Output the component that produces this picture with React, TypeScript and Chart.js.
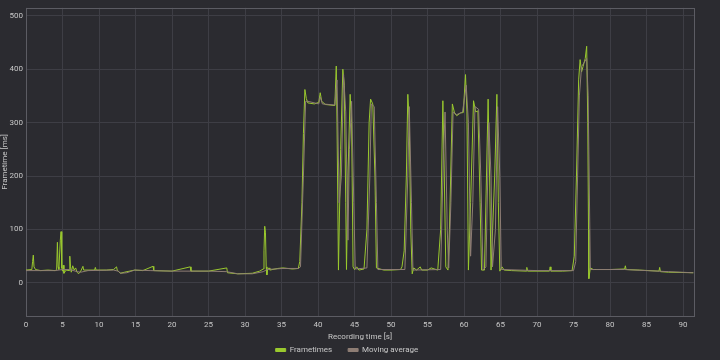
import React, { useEffect, useRef } from "react";
import { Chart, registerables } from "chart.js";
Chart.register(...registerables);

// Frametimes series (recording time in s, frametime in ms)
const ftTime = [
  0, 0.8, 0.9, 1.0, 1.1, 1.3, 2.0, 3.0, 4.0, 4.2, 4.3, 4.4, 4.5, 4.7, 4.8, 4.9, 5.0, 5.1, 5.2, 5.5,
  5.9, 6.0, 6.1, 6.2, 6.4, 6.6, 6.8, 7.0, 7.2, 7.5, 7.8, 7.9, 8.5, 9.4, 9.5, 9.6, 11.0, 12.0, 12.4, 12.5,
  12.9, 13.5, 14.9, 16.0, 17.4, 17.5, 20.0, 22.5, 22.6, 25.0, 27.5, 27.6, 29.0, 31.0, 32.0, 32.5, 32.6, 32.7, 32.8, 32.9,
  33.0, 33.1, 33.3, 33.4, 34.5, 35.2, 36.5, 37.3, 37.5, 37.8, 38.0, 38.2, 38.4, 38.6, 39.5, 40.1, 40.3, 40.5, 41.0, 42.3,
  42.5, 42.6, 42.8, 43.1, 43.4, 43.6, 43.8, 43.9, 44.1, 44.4, 44.6, 44.8, 45.0, 45.3, 45.6, 46.3, 46.7, 47.0, 47.2, 47.5,
  47.8, 48.0, 49.0, 50.0, 51.3, 51.5, 51.8, 52.1, 52.3, 52.5, 52.7, 52.9, 53.1, 53.5, 54.0, 54.2, 55.0, 55.5, 56.4, 56.8,
  57.1, 57.3, 57.5, 57.8, 58.0, 58.4, 58.7, 59.0, 59.5, 59.9, 60.2, 60.4, 60.6, 60.9, 61.3, 61.6, 61.9, 62.2, 62.4, 62.8,
  63.3, 63.5, 63.7, 64.2, 64.5, 64.7, 64.9, 65.2, 65.5, 66.5, 68.5, 68.6, 68.7, 70.0, 71.7, 71.8, 71.9, 73.5, 74.8, 75.1,
  75.4, 75.7, 75.9, 76.1, 76.3, 76.6, 76.8, 76.95, 77.05, 77.1, 77.3, 77.7, 80.0, 82.0, 82.1, 82.2, 84.0, 86.7, 86.8, 86.9,
  88.0, 91.4,
];
const ftMs = [
  24, 25, 40, 52, 30, 25, 23, 24, 23, 25, 76, 30, 25, 80, 96, 28, 22, 33, 18, 24,
  23, 50, 30, 20, 32, 24, 28, 20, 17, 22, 31, 24, 24, 24, 29, 24, 24, 25, 30, 24,
  18, 20, 24, 23, 31, 23, 22, 30, 22, 22, 28, 19, 17, 18, 22, 26, 60, 106, 95, 30,
  15, 26, 28, 24, 27, 28, 26, 27, 40, 150, 280, 362, 345, 337, 335, 338, 356, 340, 334, 332,
  406, 300, 24, 250, 400, 370, 150, 25, 200, 353, 300, 30, 25, 30, 24, 26, 100, 300, 344, 335,
  200, 28, 24, 24, 25, 30, 60, 200, 353, 300, 100, 17, 28, 24, 30, 24, 24, 28, 24, 100,
  341, 200, 30, 24, 100, 335, 318, 313, 318, 319, 390, 320, 24, 150, 341, 320, 322, 150, 24, 24,
  344, 200, 24, 200, 353, 150, 22, 30, 24, 23, 22, 29, 22, 22, 22, 30, 22, 22, 23, 50,
  200, 380, 418, 395, 405, 420, 443, 300, 100, 8, 28, 25, 25, 26, 32, 25, 24, 22, 29, 21,
  20, 19,
];

// Moving average series
const maTime = [
  0, 4, 5, 6, 7, 7.5, 8.5, 12, 12.6, 13.0, 13.8, 14.9, 17, 20, 25, 27.5, 29, 31, 32.5, 33,
  35.2, 37.3, 37.6, 38.0, 38.3, 38.6, 40.1, 40.3, 40.6, 42.3, 42.6, 42.9, 43.2, 43.5, 43.8, 44.1, 44.3, 44.6, 44.9, 45.1,
  46.7, 47.1, 47.3, 47.7, 48.0, 48.2, 51.9, 52.3, 52.5, 52.8, 53.0, 56.8, 57.2, 57.4, 57.7, 57.9, 58.2, 58.5, 59.0, 59.8,
  60.3, 60.6, 60.9, 61.2, 61.5, 62.0, 62.3, 62.6, 63.0, 63.4, 63.7, 63.9, 64.3, 64.6, 64.9, 65.1, 70, 75.0, 75.3, 75.8,
  76.1, 76.8, 77.0, 77.3, 78, 82, 85, 88, 91.4,
];
const maMs = [
  23, 23, 25, 25, 21, 20, 23, 24, 22, 18, 19, 24, 23, 22, 22, 21, 17, 17, 21, 25,
  27, 27, 30, 200, 340, 340, 335, 348, 335, 333, 380, 150, 200, 390, 320, 80, 250, 340, 150, 26,
  28, 200, 335, 330, 150, 25, 25, 200, 330, 150, 24, 25, 250, 320, 100, 28, 150, 320, 315, 320,
  370, 300, 50, 150, 330, 325, 200, 24, 30, 300, 200, 30, 100, 330, 200, 25, 23, 23, 40, 350,
  405, 420, 350, 25, 25, 25, 23, 21, 19,
];

const seriesNames = ["Frametimes", "Moving average"];
const xAxisTitle = "Recording time [s]";
const yAxisTitle = "Frametime [ms]";

const BG = "#2b2b30";
const FONT = "Roboto, 'DejaVu Sans', sans-serif";

const framePlugin = {
  id: "frame",
  beforeDatasetsDraw(chart: any) {
    const { ctx, chartArea } = chart;
    ctx.save();
    ctx.strokeStyle = "#5c5c63";
    ctx.lineWidth = 1;
    ctx.strokeRect(
      Math.round(chartArea.left) + 0.5,
      Math.round(chartArea.top) + 0.5,
      Math.round(chartArea.right - chartArea.left),
      Math.round(chartArea.bottom - chartArea.top)
    );
    ctx.restore();
  },
};

export default function App() {
  const ref = useRef<HTMLCanvasElement>(null);
  useEffect(() => {
    document.body.style.margin = "0";
    document.body.style.background = BG;
    const ft = ftTime.map((t, i) => ({ x: t, y: ftMs[i] }));
    const ma = maTime.map((t, i) => ({ x: t, y: maMs[i] }));
    const chart = new Chart(ref.current!, {
      type: "line",
      data: {
        datasets: [
          {
            label: seriesNames[1],
            data: ma,
            borderColor: "#8e7d74",
            backgroundColor: "#8e7d74",
            borderWidth: 1,
            pointRadius: 0,
            tension: 0,
            order: 0,
          },
          {
            label: seriesNames[0],
            data: ft,
            borderColor: "#9ac92e",
            backgroundColor: "#9ac92e",
            borderWidth: 1,
            pointRadius: 0,
            tension: 0,
            order: 1,
          },
        ],
      },
      options: {
        animation: false,
        responsive: false,
        layout: { padding: { top: 5, right: 26, left: 0, bottom: -4 } },
        plugins: {
          tooltip: { enabled: false },
          legend: {
            position: "bottom",
            reverse: true,
            labels: {
              color: "#c8c8c8",
              font: { family: FONT, size: 8 },
              boxWidth: 10,
              boxHeight: 3,
              padding: 16,
            },
          },
        },
        scales: {
          x: {
            type: "linear",
            min: 0,
            max: 91.5,
            afterFit: (s: any) => {
              s.height = 14;
            },
            border: { display: false },
            grid: { color: "#3e3e45", drawTicks: false },
            ticks: {
              stepSize: 5,
              includeBounds: false,
              color: "#c8c8c8",
              font: { family: FONT, size: 8 },
              padding: 4,
              maxRotation: 0,
            },
            title: {
              display: true,
              text: xAxisTitle,
              color: "#c8c8c8",
              font: { family: FONT, size: 8 },
              padding: { top: 0, bottom: -12 },
            },
          },
          y: {
            type: "linear",
            min: -62,
            max: 515,
            afterFit: (s: any) => {
              s.width = 26;
            },
            border: { display: false },
            grid: { color: "#3e3e45", drawTicks: false },
            ticks: {
              stepSize: 100,
              includeBounds: false,
              color: "#c8c8c8",
              font: { family: FONT, size: 8 },
              padding: 3,
            },
            title: {
              display: true,
              text: yAxisTitle,
              color: "#c8c8c8",
              font: { family: FONT, size: 8 },
              padding: { top: 0, bottom: 0 },
            },
          },
        },
      },
      plugins: [framePlugin],
    });
    return () => chart.destroy();
  }, []);
  return (
    <div style={{ width: 720, height: 360, background: BG }}>
      <canvas ref={ref} width={720} height={360} />
    </div>
  );
}
